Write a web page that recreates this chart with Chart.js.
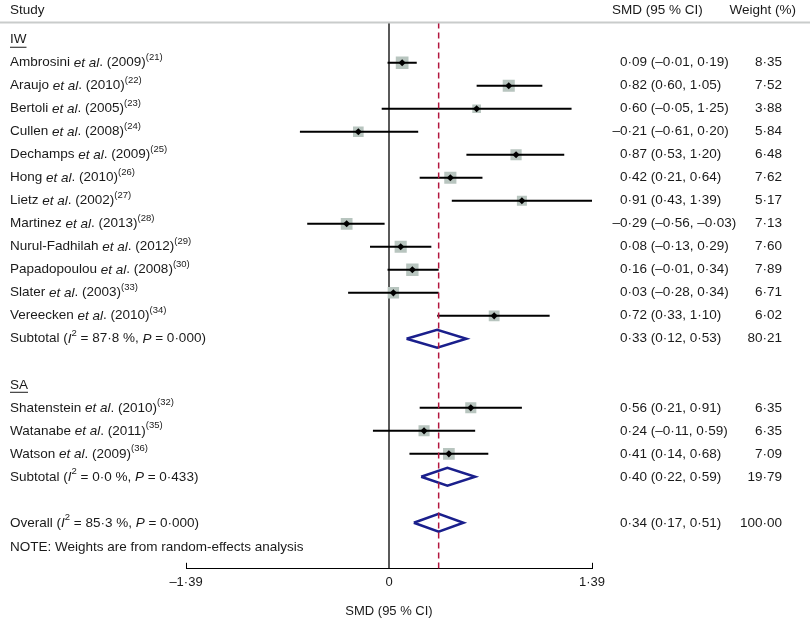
<!DOCTYPE html>
<html>
<head>
<meta charset="utf-8">
<script src="https://cdn.jsdelivr.net/npm/chart.js@4.4.1/dist/chart.umd.min.js"></script>
<style>
  html, body { margin: 0; padding: 0; background: #fff; }
  #wrap { width: 810px; height: 619px; position: relative; }
</style>
</head>
<body>
<div id="wrap"><canvas id="forest"></canvas></div>
<script>
// IW group
const iwStudies = ['Ambrosini', 'Araujo', 'Bertoli', 'Cullen', 'Dechamps', 'Hong', 'Lietz', 'Martinez', 'Nurul-Fadhilah', 'Papadopoulou', 'Slater', 'Vereecken'];
const iwYears = [2009, 2010, 2005, 2008, 2009, 2010, 2002, 2013, 2012, 2008, 2003, 2010];
const iwRefs = [21, 22, 23, 24, 25, 26, 27, 28, 29, 30, 33, 34];
const iwSmd = [0.09, 0.82, 0.60, -0.21, 0.87, 0.42, 0.91, -0.29, 0.08, 0.16, 0.03, 0.72];
const iwLower = [-0.01, 0.60, -0.05, -0.61, 0.53, 0.21, 0.43, -0.56, -0.13, -0.01, -0.28, 0.33];
const iwUpper = [0.19, 1.05, 1.25, 0.20, 1.20, 0.64, 1.39, -0.03, 0.29, 0.34, 0.34, 1.10];
const iwWeights = [8.35, 7.52, 3.88, 5.84, 6.48, 7.62, 5.17, 7.13, 7.60, 7.89, 6.71, 6.02];
const iwSubtotal = [0.33, 0.12, 0.53, 80.21]; // smd, lower, upper, weight
const iwHet = [87.8, 0.000]; // I2, P

// SA group
const saStudies = ['Shatenstein', 'Watanabe', 'Watson'];
const saYears = [2010, 2011, 2009];
const saRefs = [32, 35, 36];
const saSmd = [0.56, 0.24, 0.41];
const saLower = [0.21, -0.11, 0.14];
const saUpper = [0.91, 0.59, 0.68];
const saWeights = [6.35, 6.35, 7.09];
const saSubtotal = [0.40, 0.22, 0.59, 19.79];
const saHet = [0.0, 0.433];

const overall = [0.34, 0.17, 0.51, 100.00];
const overallHet = [85.3, 0.000];

const xTicks = [-1.39, 0, 1.39];

const FONT = '"Liberation Sans", Arial, Helvetica, sans-serif';
const TEXT = '#1a1a1a';

function num(v, d = 2) {
  return (v < 0 ? '–' : '') + Math.abs(v).toFixed(d).replace('.', '·');
}

// rows in display order; row index = y value
const rows = [];
function addGroup(name, studies, years, refs, smd, lo, hi, w, sub, het) {
  rows.push({ kind: 'group', label: name });
  studies.forEach((s, i) => rows.push({
    kind: 'study', name: s, year: years[i], ref: refs[i],
    est: smd[i], lo: lo[i], hi: hi[i], w: w[i]
  }));
  rows.push({ kind: 'sum', label: 'Subtotal', est: sub[0], lo: sub[1], hi: sub[2], w: sub[3], i2: het[0], p: het[1] });
  rows.push({ kind: 'blank' });
}
addGroup('IW', iwStudies, iwYears, iwRefs, iwSmd, iwLower, iwUpper, iwWeights, iwSubtotal, iwHet);
addGroup('SA', saStudies, saYears, saRefs, saSmd, saLower, saUpper, saWeights, saSubtotal, saHet);
rows.push({ kind: 'sum', label: 'Overall', est: overall[0], lo: overall[1], hi: overall[2], w: overall[3], i2: overallHet[0], p: overallHet[1] });
rows.push({ kind: 'note', label: 'NOTE: Weights are from random-effects analysis' });

const studyRows = rows.map((r, i) => ({ ...r, y: i })).filter(r => r.kind === 'study');
const sumRows = rows.map((r, i) => ({ ...r, y: i })).filter(r => r.kind === 'sum');

const ciData = [];
studyRows.forEach(r => { ciData.push({ x: r.lo, y: r.y }, { x: r.hi, y: r.y }, { x: r.hi, y: null }); });
const diamondData = [];
const DH = 0.39;
sumRows.forEach(r => {
  diamondData.push({ x: r.lo, y: r.y }, { x: r.est, y: r.y - DH }, { x: r.hi, y: r.y },
    { x: r.est, y: r.y + DH }, { x: r.lo, y: r.y }, { x: r.lo, y: null });
});

const yTop = -0.75, yBottom = 23;

const textPlugin = {
  id: 'forestText',
  afterDraw(chart) {
    const ctx = chart.ctx;
    const ys = chart.scales.y, xs = chart.scales.x;
    const W = chart.width;
    ctx.save();
    ctx.fillStyle = TEXT;
    ctx.textBaseline = 'middle';

    function parts(list, x, y) {
      for (const [t, s] of list) {
        if (s === 's') { ctx.font = '9.5px ' + FONT; ctx.fillText(t, x, y - 5); }
        else { ctx.font = (s === 'i' ? 'italic ' : '') + '13.5px ' + FONT; ctx.fillText(t, x, y); }
        x += ctx.measureText(t).width;
      }
      return x;
    }

    // header
    ctx.font = '13.5px ' + FONT;
    ctx.textAlign = 'left';
    ctx.fillText('Study', 10, 10);
    ctx.fillText('SMD (95 % CI)', 612, 10);
    ctx.textAlign = 'right';
    ctx.fillText('Weight (%)', 796, 10);
    const hy = ys.getPixelForValue(yTop);
    ctx.strokeStyle = '#c9cccb';
    ctx.lineWidth = 1.8;
    ctx.beginPath(); ctx.moveTo(0, hy); ctx.lineTo(W, hy); ctx.stroke();

    const estX = 647, wX = 782;
    rows.forEach((r, i) => {
      const y = ys.getPixelForValue(i);
      ctx.textAlign = 'left';
      if (r.kind === 'group') {
        ctx.font = '13.5px ' + FONT;
        ctx.fillText(r.label, 10, y);
        const w = ctx.measureText(r.label).width;
        ctx.strokeStyle = TEXT; ctx.lineWidth = 1;
        ctx.beginPath(); ctx.moveTo(10, y + 7.5); ctx.lineTo(10 + w, y + 7.5); ctx.stroke();
      } else if (r.kind === 'study') {
        parts([[r.name + ' ', 'n'], ['et al', 'i'], ['. (' + r.year + ')', 'n'], ['(' + r.ref + ')', 's']], 10, y);
      } else if (r.kind === 'sum') {
        parts([[r.label + ' (', 'n'], ['I', 'i'], ['2', 's'], [' = ' + num(r.i2, 1) + ' %, ', 'n'],
          ['P', 'i'], [' = ' + num(r.p, 3) + ')', 'n']], 10, y);
      } else if (r.kind === 'note') {
        ctx.font = '13.5px ' + FONT;
        ctx.fillText(r.label, 10, y + 1);
      }
      if (r.kind === 'study' || r.kind === 'sum') {
        ctx.font = '13.5px ' + FONT;
        ctx.textAlign = 'right';
        ctx.fillText(num(r.est), estX, y);
        ctx.textAlign = 'left';
        ctx.fillText(' (' + num(r.lo) + ', ' + num(r.hi) + ')', estX, y);
        ctx.textAlign = 'right';
        ctx.fillText(num(r.w), wX, y);
      }
    });

    // end ticks on the axis, pointing up
    const ay = ys.getPixelForValue(yBottom);
    ctx.strokeStyle = '#000'; ctx.lineWidth = 1;
    [xTicks[0], xTicks[xTicks.length - 1]].forEach(v => {
      const px = Math.round(xs.getPixelForValue(v)) + 0.5;
      ctx.beginPath(); ctx.moveTo(px, ay - 6); ctx.lineTo(px, ay); ctx.stroke();
    });
    ctx.restore();
  }
};

new Chart(document.getElementById('forest'), {
  type: 'scatter',
  data: {
    datasets: [
      {
        label: 'no effect',
        data: [{ x: 0, y: yTop }, { x: 0, y: yBottom }],
        showLine: true, borderColor: '#000', borderWidth: 1.3, pointRadius: 0, order: 6
      },
      {
        label: 'weight',
        data: studyRows.map(r => ({ x: r.est, y: r.y, w: r.w })),
        pointStyle: 'rect',
        pointRadius: c => c.raw ? 4.4 * Math.sqrt(c.raw.w) / Math.SQRT2 : 0,
        backgroundColor: '#b8c5bf', borderWidth: 0, order: 5
      },
      {
        label: '95% CI',
        data: ciData,
        showLine: true, borderColor: '#000', borderWidth: 2, pointRadius: 0, spanGaps: false, order: 4
      },
      {
        label: 'SMD',
        data: studyRows.map(r => ({ x: r.est, y: r.y })),
        pointStyle: 'rectRot', pointRadius: 3.6, backgroundColor: '#000', borderWidth: 0, order: 3
      },
      {
        label: 'pooled',
        data: diamondData,
        showLine: true, borderColor: '#1a1f8c', borderWidth: 2.5, pointRadius: 0, spanGaps: false,
        borderJoinStyle: 'miter', order: 2
      },
      {
        label: 'overall',
        data: [{ x: overall[0], y: yTop }, { x: overall[0], y: yBottom }],
        showLine: true, borderColor: '#b3163f', borderWidth: 1.5, borderDash: [6, 4], pointRadius: 0, order: 1
      }
    ]
  },
  options: {
    responsive: true,
    maintainAspectRatio: false,
    animation: false,
    layout: { padding: { left: 186, right: 218, top: 16.75, bottom: 0 } },
    plugins: { legend: { display: false }, tooltip: { enabled: false } },
    scales: {
      x: {
        type: 'linear', min: xTicks[0], max: xTicks[xTicks.length - 1],
        afterBuildTicks: s => { s.ticks = xTicks.map(v => ({ value: v })); },
        grid: { display: false, drawTicks: false },
        border: { display: true, color: '#000', width: 1 },
        ticks: { padding: 6, color: TEXT, font: { family: FONT, size: 13 }, maxRotation: 0, callback: v => (v === 0 ? '0' : num(v)) },
        title: { display: true, text: 'SMD (95 % CI)', color: TEXT, font: { family: FONT, size: 13 }, padding: { top: 7, bottom: 0 } }
      },
      y: { type: 'linear', reverse: true, min: -1, max: yBottom, display: false }
    }
  },
  plugins: [textPlugin]
});
</script>
</body>
</html>
